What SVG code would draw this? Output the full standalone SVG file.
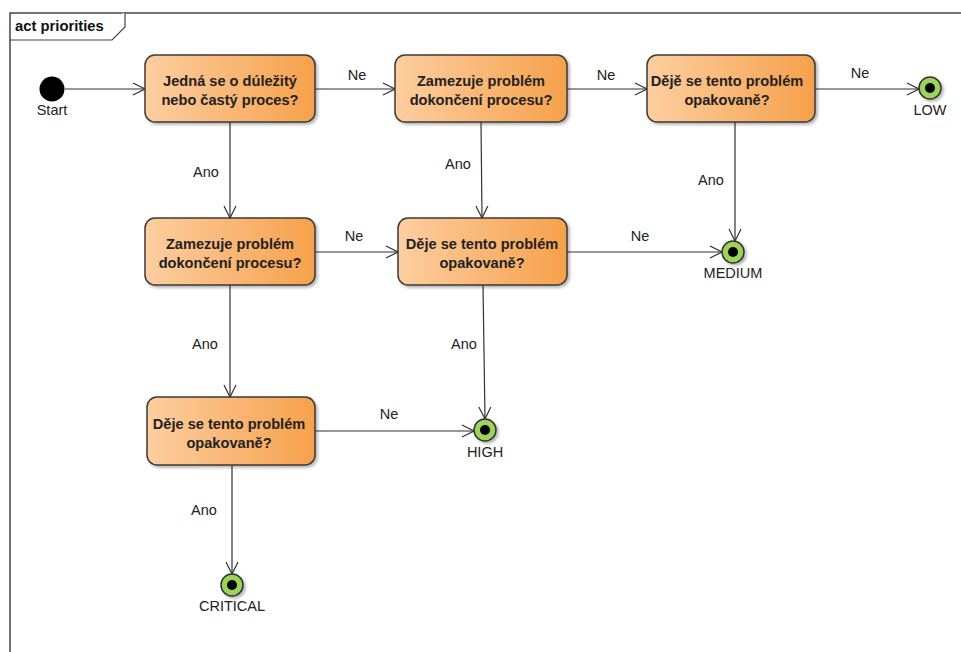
<svg xmlns="http://www.w3.org/2000/svg" width="961" height="652" viewBox="0 0 961 652">
<defs>
<linearGradient id="og" x1="0" y1="0" x2="1" y2="0">
<stop offset="0" stop-color="#FDCEA0"/>
<stop offset="1" stop-color="#F6A14C"/>
</linearGradient>
<filter id="sh" x="-10%" y="-10%" width="130%" height="130%">
<feGaussianBlur in="SourceAlpha" stdDeviation="1.5"/>
<feOffset dx="2" dy="2" result="b"/>
<feComponentTransfer><feFuncA type="linear" slope="0.3"/></feComponentTransfer>
<feMerge><feMergeNode/><feMergeNode in="SourceGraphic"/></feMerge>
</filter>
<marker id="ar" viewBox="0 0 14 14" refX="13" refY="7" markerWidth="14" markerHeight="14" markerUnits="userSpaceOnUse" orient="auto">
<path d="M1,1 L13,7 L1,13" fill="none" stroke="#333" stroke-width="1.2"/>
</marker>
</defs>
<style>
.act{fill:url(#og);stroke:#3a3a3a;stroke-width:1.5;filter:url(#sh)}
.t{font-family:"Liberation Sans",Arial,sans-serif;font-size:14.6px;font-weight:bold;fill:#222;text-anchor:middle}
.l{font-family:"Liberation Sans",Arial,sans-serif;font-size:14.5px;fill:#222;text-anchor:middle}
.e{stroke:#333;stroke-width:1.2;fill:none;marker-end:url(#ar)}
.fin{fill:#9CD35A;stroke:#333;stroke-width:1.5;filter:url(#sh)}
</style>
<rect width="961" height="652" fill="#fff"/>
<g id="frame">
<path d="M10,660 L10,13 L970,13" fill="none" stroke="#444" stroke-width="1.5"/>
<path d="M10,40 L112,40 L125,27 L125,13" fill="#fff" stroke="#444" stroke-width="1.2"/>
<text x="15" y="31" font-family="Liberation Sans,Arial,sans-serif" font-size="14.8" font-weight="bold" fill="#111">act priorities</text>
</g>
<g id="connectors">
<line class="e" x1="65" y1="89" x2="145" y2="89"/>
<line class="e" x1="315" y1="89" x2="395" y2="89"/>
<text class="l" x="357" y="80">Ne</text>
<line class="e" x1="567" y1="89" x2="647" y2="89"/>
<text class="l" x="606" y="80">Ne</text>
<line class="e" x1="815" y1="89" x2="919" y2="89"/>
<text class="l" x="860" y="78">Ne</text>
<line class="e" x1="230" y1="122" x2="230" y2="218"/>
<text class="l" x="206" y="177">Ano</text>
<line class="e" x1="481" y1="122" x2="482" y2="218"/>
<text class="l" x="458" y="169">Ano</text>
<line class="e" x1="735" y1="122" x2="735" y2="241"/>
<text class="l" x="711" y="185">Ano</text>
<line class="e" x1="315" y1="252" x2="398" y2="252"/>
<text class="l" x="354" y="241">Ne</text>
<line class="e" x1="567" y1="252" x2="722" y2="252"/>
<text class="l" x="640" y="241">Ne</text>
<line class="e" x1="230" y1="285" x2="230" y2="397"/>
<text class="l" x="205" y="349">Ano</text>
<line class="e" x1="483" y1="285" x2="485" y2="419"/>
<text class="l" x="464" y="349">Ano</text>
<line class="e" x1="315" y1="431" x2="474" y2="431"/>
<text class="l" x="389" y="419">Ne</text>
<line class="e" x1="232" y1="465" x2="232" y2="574"/>
<text class="l" x="204" y="515">Ano</text>
</g>
<g id="start">
<circle cx="52" cy="89" r="12.5" fill="#000"/>
<text class="l" x="52" y="115">Start</text>
</g>
<g id="n1">
<rect class="act" x="145" y="55" width="170" height="67" rx="10"/>
<text class="t" x="230" y="86">Jedná se o dúležitý</text>
<text class="t" x="230" y="105">nebo častý proces?</text>
</g>
<g id="n2">
<rect class="act" x="395" y="55" width="172" height="67" rx="10"/>
<text class="t" x="481" y="86">Zamezuje problém</text>
<text class="t" x="481" y="105">dokončení procesu?</text>
</g>
<g id="n3">
<rect class="act" x="647" y="55" width="168" height="67" rx="10"/>
<text class="t" x="727" y="86">Dějě se tento problém</text>
<text class="t" x="727" y="105">opakovaně?</text>
</g>
<g id="low">
<circle class="fin" cx="930" cy="88" r="11"/>
<circle cx="930" cy="88" r="5" fill="#000"/>
<text class="l" x="930" y="115">LOW</text>
</g>
<g id="n4">
<rect class="act" x="145" y="218" width="170" height="67" rx="10"/>
<text class="t" x="230" y="249">Zamezuje problém</text>
<text class="t" x="230" y="268">dokončení procesu?</text>
</g>
<g id="n5">
<rect class="act" x="398" y="218" width="169" height="67" rx="10"/>
<text class="t" x="482" y="249">Děje se tento problém</text>
<text class="t" x="482" y="268">opakovaně?</text>
</g>
<g id="medium">
<circle class="fin" cx="733" cy="252" r="11"/>
<circle cx="733" cy="252" r="5" fill="#000"/>
<text class="l" x="733" y="278">MEDIUM</text>
</g>
<g id="n6">
<rect class="act" x="147" y="397" width="168" height="68" rx="10"/>
<text class="t" x="229" y="429">Děje se tento problém</text>
<text class="t" x="229" y="448">opakovaně?</text>
</g>
<g id="high">
<circle class="fin" cx="485" cy="430" r="11"/>
<circle cx="485" cy="430" r="5" fill="#000"/>
<text class="l" x="485" y="457">HIGH</text>
</g>
<g id="critical">
<circle class="fin" cx="232" cy="585" r="11"/>
<circle cx="232" cy="585" r="5" fill="#000"/>
<text class="l" x="232" y="611">CRITICAL</text>
</g>
</svg>
